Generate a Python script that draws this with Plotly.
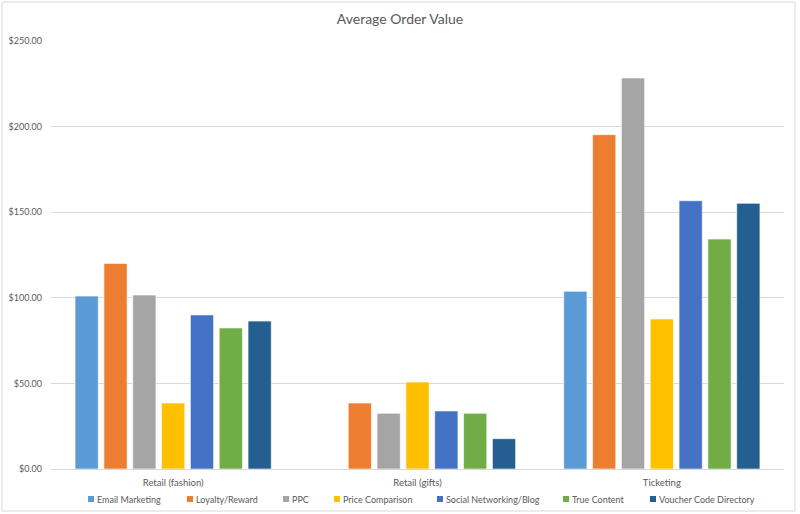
import plotly.graph_objects as go

categories = ["Retail (fashion)", "Retail (gifts)", "Ticketing"]
series_names = ["Email Marketing", "Loyalty/Reward", "PPC", "Price Comparison",
                "Social Networking/Blog", "True Content", "Voucher Code Directory"]
email_marketing = [101.0, None, 103.8]
loyalty_reward = [120.1, 38.5, 195.3]
ppc = [101.6, 32.5, 228.4]
price_comparison = [38.5, 50.8, 87.6]
social_networking = [90.0, 33.9, 156.7]
true_content = [82.4, 32.5, 134.3]
voucher_code = [86.4, 17.7, 155.2]
y_ticks = [0, 50, 100, 150, 200, 250]
y_tick_labels = ["$" + f"{v:.2f}" for v in y_ticks]

series_values = [email_marketing, loyalty_reward, ppc, price_comparison,
                 social_networking, true_content, voucher_code]
colors = ["#5B9BD5", "#ED7D31", "#A5A5A5", "#FFC000", "#4472C4", "#70AD47", "#255E91"]

W, H = 800, 514
ml, mr, mt, mb = 51, 16, 41, 45
pw, ph = W - ml - mr, H - mt - mb

fig = go.Figure()
for name, vals, col in zip(series_names, series_values, colors):
    fig.add_trace(go.Bar(x=categories, y=vals, name=name, showlegend=False,
                         marker=dict(color=col, line=dict(color="rgba(255,255,255,0.6)", width=1))))

# Custom single-row legend (layout positions in pixels, like the reference)
legend_px = [88, 187, 283, 334, 437, 563, 650]
legend_y_px = 499
shapes = []
annotations = []
def px2x(px):
    return (px - ml) / pw
def py2y(py):
    return (mt + ph - py) / ph
for name, col, lx in zip(series_names, colors, legend_px):
    shapes.append(dict(type="rect", xref="paper", yref="paper",
                       x0=px2x(lx), x1=px2x(lx + 6), y0=py2y(legend_y_px + 3), y1=py2y(legend_y_px - 3),
                       fillcolor=col, line=dict(width=0)))
    annotations.append(dict(text=name, xref="paper", yref="paper", x=px2x(lx + 7), y=py2y(legend_y_px),
                            xanchor="left", yanchor="middle", showarrow=False,
                            font=dict(size=9, color="#595959")))

shapes.append(dict(type="rect", xref="paper", yref="paper",
                   x0=px2x(2), x1=px2x(795), y0=py2y(511), y1=py2y(2),
                   line=dict(color="#D9D9D9", width=1), layer="below"))

fig.update_layout(
    width=W, height=H,
    margin=dict(l=ml, r=mr, t=mt, b=mb, autoexpand=False),
    paper_bgcolor="white", plot_bgcolor="white",
    font=dict(family="Lato, Liberation Sans, sans-serif", size=9, color="#595959"),
    title=dict(text="Average Order Value", x=0.5, xanchor="center", y=1 - 19 / H, yanchor="middle",
               font=dict(size=14, color="#595959")),
    barmode="group", bargap=0.174, bargroupgap=0.195,
    showlegend=False,
    xaxis=dict(showgrid=False, showline=True, linecolor="#D9D9D9", linewidth=1,
               ticks="", ticklabelstandoff=5, tickfont=dict(size=9.5, color="#595959"), automargin=False),
    yaxis=dict(range=[0, 250], tickvals=y_ticks, ticktext=y_tick_labels,
               showgrid=True, gridcolor="#D9D9D9", gridwidth=1, zeroline=False,
               showline=False, ticks="", ticklabelstandoff=8, automargin=False,
               tickfont=dict(size=9, color="#595959")),
    shapes=shapes,
    annotations=annotations,
)

fig.write_html("out.html", config={"displayModeBar": False},
               post_script="document.body.style.margin='0';document.body.style.overflow='hidden';")
